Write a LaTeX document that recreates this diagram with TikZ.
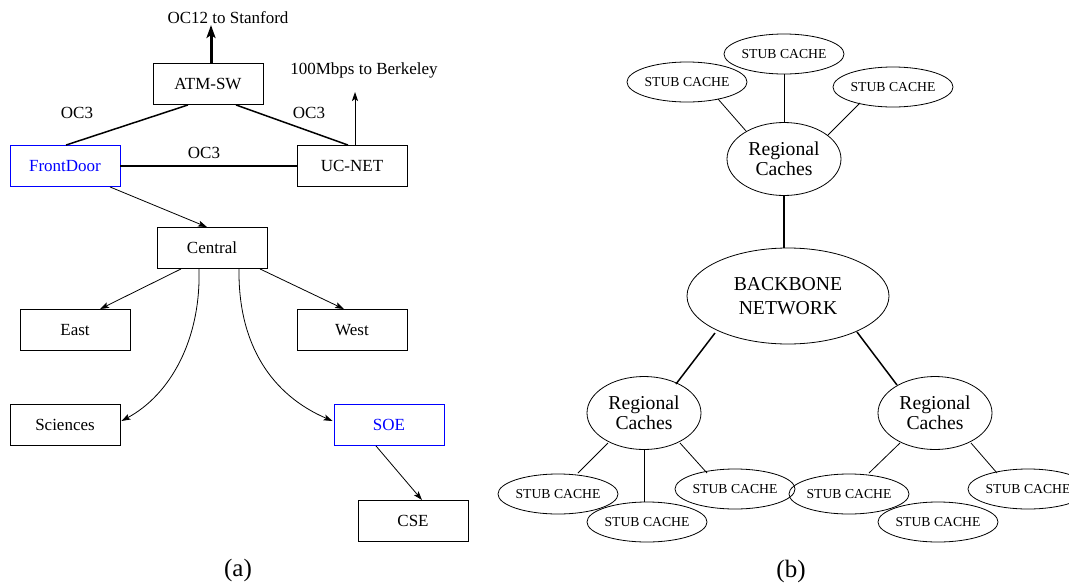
\documentclass[tikz,border=0pt]{standalone}
\usepackage{fontspec}
\setmainfont{Liberation Serif}
\usetikzlibrary{arrows.meta,calc,shapes.geometric}
\begin{document}
\begin{tikzpicture}[x=1pt,y=-1pt,
  box/.style={draw,line width=0.9pt,minimum width=110pt,minimum height=41pt,inner sep=0pt,font=\fontsize{17}{20}\selectfont},
  bluebox/.style={box,draw=blue,text=blue},
  lbl/.style={inner sep=0pt,font=\fontsize{17}{20}\selectfont},
  captxt/.style={inner sep=0pt,font=\fontsize{25}{28}\selectfont},
  stub/.style={draw,ellipse,line width=0.8pt,minimum width=106pt,minimum height=40pt,inner sep=0pt,font=\fontsize{13.7}{16}\selectfont},
  reg/.style={draw,ellipse,line width=0.8pt,minimum width=114pt,minimum height=73pt,inner sep=0pt,align=center,font=\fontsize{19.7}{20}\selectfont},
  thinln/.style={line width=0.8pt},
  thk/.style={line width=1.5pt},
  arr/.style={line width=0.8pt,-{Stealth[length=9pt,width=6pt,inset=2pt]}}
]
\useasboundingbox (0,0) rectangle (1069,584);
\clip (0,0) rectangle (1069,584);
% ---------- (a) ----------
\node[box] (atm) at (208,84) {ATM-SW};
\node[lbl] (stanford) at (228,18) {OC12 to Stanford};
\node[box] (uc) at (352,166) {UC-NET};
\node[lbl] (berk) at (364,70) {100Mbps to Berkeley};
\node[bluebox] (fd) at (65,166) {FrontDoor};
\node[box] (central) at (212,248) {Central};
\node[box] (east) at (75,330) {East};
\node[box] (west) at (352,330) {West};
\node[box] (sci) at (65,425) {Sciences};
\node[bluebox] (soe) at (389,425) {SOE};
\node[box] (cse) at (413,521) {CSE};
\node[lbl] (oca) at (77,113) {OC3};
\node[lbl] (ocb) at (309,113) {OC3};
\node[lbl] (occ) at (204,153) {OC3};
\node[captxt] (capa) at (238,570) {(a)};
\coordinate (stantip) at (211,25);
\coordinate (berktip) at (355,92);

\draw[line width=3pt,-{Stealth[length=13pt,width=9pt,inset=3pt]}] ($(atm.north)+(3,0)$) -- (stantip);
\draw[arr] ($(uc.north)+(3,0)$) -- (berktip);
\draw[thk] ($(atm.south)+(-20,0)$) -- ($(fd.north)+(1,0)$);
\draw[thk] ($(atm.south)+(28,0)$) -- ($(uc.north)+(-4,0)$);
\draw[thk] (fd.east) -- (uc.west);
\draw[arr] ($(fd.south)+(45,0)$) -- ($(central.north)+(-5,0)$);
\draw[arr] ($(central.south)+(-31,0)$) -- ($(east.north)+(25,0)$);
\draw[arr] ($(central.south)+(48,0)$) -- ($(west.north)+(-8,0)$);
\draw[arr] ($(central.south)+(-13,0)$) .. controls (201,340) and (170,395) .. ($(sci.east)+(1,-4)$);
\draw[arr] ($(central.south)+(27,0)$) .. controls (238,345) and (272,395) .. ($(soe.west)+(-1,-4)$);
\draw[arr] ($(soe.south)+(-13,0)$) -- ($(cse.north)+(9,0)$);

% ---------- (b) ----------
\node[stub] (t1) at (687,82) {STUB CACHE};
\node[stub] (t2) at (784,54) {STUB CACHE};
\node[stub] (t3) at (893,87) {STUB CACHE};
\node[reg] (rt) at (784,159) {Regional\\Caches};
\node[draw,ellipse,line width=0.8pt,minimum width=202pt,minimum height=96pt,inner sep=0pt,align=center,font=\fontsize{19.7}{24}\selectfont] (bb) at (788,296) {BACKBONE\\NETWORK};
\node[reg] (rl) at (644,413) {Regional\\Caches};
\node[reg] (rr) at (935,413) {Regional\\Caches};
\node[stub] (s1) at (558,494) {STUB CACHE};
\node[stub] (s2) at (647,522) {STUB CACHE};
\node[stub] (s3) at (735,489) {STUB CACHE};
\node[stub] (s4) at (849,494) {STUB CACHE};
\node[stub] (s5) at (938,522) {STUB CACHE};
\node[stub] (s6) at (1028,489) {STUB CACHE};
\node[captxt] (capb) at (791,571) {(b)};

\draw[thinln] ($(t1.center)+(31,17)$) -- ($(rt.center)+(-38,-28)$);
\draw[thinln] (t2.south) -- (rt.north);
\draw[thinln] ($(t3.center)+(-33,16)$) -- ($(rt.center)+(44,-24)$);
\draw[thk] (rt.south) -- (rt.south |- bb.north);
\draw[thk] ($(bb.center)+(-73,37)$) -- ($(rl.center)+(32,-29)$);
\draw[thk] ($(bb.center)+(69,36)$) -- ($(rr.center)+(-38,-28)$);
\draw[thinln] ($(rl.center)+(-36,30)$) -- ($(s1.center)+(20,-21)$);
\draw[thinln] (rl.south) -- (rl.south |- s2.north);
\draw[thinln] ($(rl.center)+(36,30)$) -- ($(s3.center)+(-28,-16)$);
\draw[thinln] ($(rr.center)+(-35,30)$) -- ($(s4.center)+(20,-21)$);
\draw[thinln] ($(rr.center)+(-2,36)$) -- ($(rr.center)+(-2,36)$ |- s5.north);
\draw[thinln] ($(rr.center)+(36,30)$) -- ($(s6.center)+(-31,-16)$);
\end{tikzpicture}
\end{document}
